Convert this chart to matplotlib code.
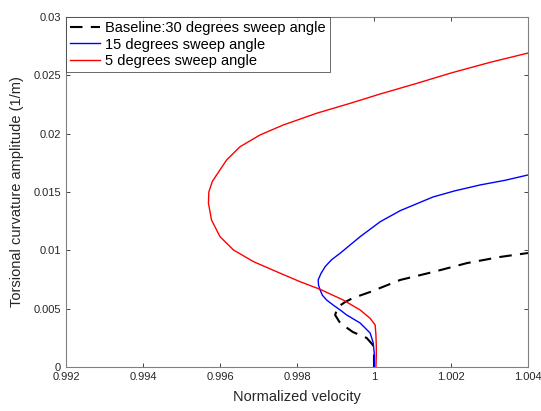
import matplotlib
matplotlib.use("Agg")
import matplotlib.pyplot as plt

plt.rcParams['font.family'] = ['Liberation Sans', 'DejaVu Sans']

# Baseline 30 degrees (dashed black)
base_x = [1.0, 1.0, 0.99997, 0.99981, 0.99945, 0.99912, 0.99899, 0.99906, 0.99925,
          0.99945, 0.9999, 1.00068, 1.00153, 1.00242, 1.00327, 1.004]
base_y = [0.0, 0.00103, 0.00189, 0.00249, 0.0030, 0.00377, 0.00446, 0.00514, 0.00557,
          0.00591, 0.00643, 0.00746, 0.00814, 0.00891, 0.00943, 0.00977]

# 15 degrees (blue)
b15_x = [1.00001, 1.00001, 0.99998, 0.9999, 0.99964, 0.99929, 0.99912, 0.99894,
         0.99877, 0.99866, 0.9986, 0.99856, 0.99855, 0.99862, 0.99873, 0.99890,
         0.99912, 0.99964, 1.00016, 1.00068, 1.00153, 1.00210, 1.00275, 1.00340, 1.004]
b15_y = [0.0, 0.00103, 0.00206, 0.00291, 0.00377, 0.00446, 0.00489, 0.00531,
         0.00574, 0.00615, 0.0066, 0.0070, 0.00746, 0.0080, 0.0086, 0.0092,
         0.00975, 0.01117, 0.01245, 0.0134, 0.01457, 0.0151, 0.0156, 0.0160, 0.01646]

# 5 degrees (red)
r5_x = [1.00005, 1.00006, 1.00006, 1.00005, 1.00003, 0.9999, 0.99964, 0.9992,
        0.9986, 0.99808, 0.99747, 0.99687, 0.99635, 0.996, 0.99578, 0.99570,
        0.99571, 0.99580, 0.99595, 0.99617, 0.99652, 0.99704, 0.99764, 0.99851,
        0.99938, 1.00016, 1.0011, 1.002, 1.003, 1.004]
r5_y = [0.0, 0.0010, 0.00176, 0.00274, 0.0036, 0.00417, 0.00489, 0.00574,
        0.00666, 0.00731, 0.00817, 0.00903, 0.01003, 0.01117, 0.0126, 0.01403,
        0.0150, 0.0159, 0.01665, 0.01774, 0.01888, 0.01989, 0.02074, 0.02175,
        0.0226, 0.0234, 0.0243, 0.0252, 0.0261, 0.02691]

xticks = [0.992, 0.994, 0.996, 0.998, 1.0, 1.002, 1.004]
xtick_labels = ['0.992', '0.994', '0.996', '0.998', '1', '1.002', '1.004']
yticks = [0, 0.005, 0.01, 0.015, 0.02, 0.025, 0.03]
ytick_labels = ['0', '0.005', '0.01', '0.015', '0.02', '0.025', '0.03']

fig = plt.figure(figsize=(5.41, 4.11), dpi=100)
ax = fig.add_axes([66/541, 44/411, (528-66)/541, (367-17)/411])

ax.plot(base_x, base_y, color='black', linestyle=(0, (6, 4)), linewidth=1.5,
        label='Baseline:30 degrees sweep angle')
ax.plot(b15_x, b15_y, color='#0000ff', linewidth=1.0, label='15 degrees sweep angle',
        solid_joinstyle='round')
ax.plot(r5_x, r5_y, color='#ff0000', linewidth=1.0, label='5 degrees sweep angle',
        solid_joinstyle='round')

ax.set_xlim(0.992, 1.004)
ax.set_ylim(0, 0.03)
ax.set_xticks(xticks)
ax.set_xticklabels(xtick_labels)
ax.set_yticks(yticks)
ax.set_yticklabels(ytick_labels)
ax.tick_params(direction='in', length=3, labelsize=8, colors='#262626',
               top=True, right=True, width=0.6)
for s in ax.spines.values():
    s.set_color('#808080')
    s.set_linewidth(0.8)

ax.set_xlabel('Normalized velocity', fontsize=10.5, color='#262626', labelpad=6)
ax.set_ylabel('Torsional curvature amplitude (1/m)', fontsize=10.5, color='#262626', labelpad=7)

leg = ax.legend(loc='upper left', fontsize=10.5, frameon=True, fancybox=False,
                edgecolor='#262626', borderaxespad=0.0, handlelength=2.0,
                handletextpad=0.4, borderpad=0.3, labelspacing=0.15)
leg.get_frame().set_linewidth(0.6)

fig.savefig('out.png', dpi=100)
